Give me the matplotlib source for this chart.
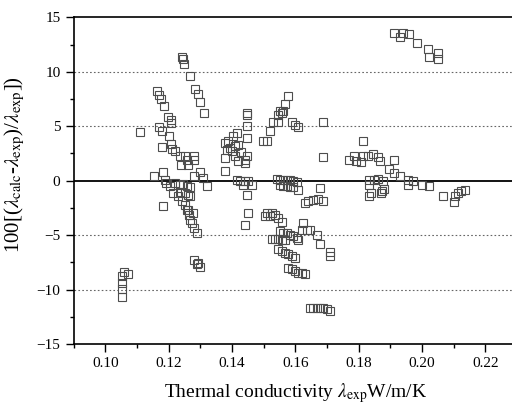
import numpy as np
import matplotlib
matplotlib.use('Agg')
import matplotlib.pyplot as plt
from matplotlib.ticker import MultipleLocator

plt.rcParams['font.family'] = ['Liberation Serif', 'DejaVu Serif']
plt.rcParams['mathtext.fontset'] = 'stix'

# Desvios relativos por grupo de dados (lambda_exp, desvio %)
x_g1 = [0.1060, 0.1071, 0.1052, 0.1052, 0.1052, 0.1052]
y_g1 = [-8.36, -8.61, -8.76, -9.43, -9.98, -10.65]

x_g2 = [0.1110]
y_g2 = [4.46]

x_g3 = [0.1162, 0.1171, 0.1177, 0.1186, 0.1199, 0.1207, 0.1208, 0.1171, 0.1178,
        0.1201, 0.1180, 0.1208, 0.1212, 0.1220, 0.1236, 0.1252, 0.1281, 0.1280,
        0.1238, 0.1260, 0.1257, 0.1299, 0.1279, 0.1309, 0.1320]
y_g3 = [8.27, 7.88, 7.54, 6.90, 5.89, 5.59, 5.28, 4.95, 4.58,
        4.12, 3.11, 3.39, 2.93, 2.68, 2.23, 2.23, 2.23, 1.92,
        1.47, 1.40, 1.92, 0.80, 0.39, 0.25, -0.46]

x_g4 = [0.1241, 0.1246, 0.1249, 0.1267, 0.1283, 0.1292, 0.1299, 0.1313]
y_g4 = [11.33, 11.14, 10.68, 9.64, 8.40, 7.97, 7.21, 6.20]

x_g5 = [0.1154, 0.1183, 0.1189, 0.1191, 0.1204, 0.1220, 0.1236, 0.1246, 0.1257,
        0.1267, 0.1215, 0.1231, 0.1241, 0.1252, 0.1183, 0.1262, 0.1267, 0.1262,
        0.1278, 0.1267, 0.1273, 0.1281, 0.1289, 0.1236, 0.1252, 0.1257, 0.1263]
y_g5 = [0.39, 0.80, 0.09, -0.21, -0.52, -0.21, -0.40, -0.30, -0.52,
        -0.60, -1.13, -1.44, -1.90, -2.20, -2.35, -1.28, -1.44, -2.66,
        -2.96, -3.57, -3.88, -4.33, -4.79, -1.00, -1.10, -2.66, -3.11]

x_g6 = [0.1279, 0.1289, 0.1293, 0.1299]
y_g6 = [-7.30, -7.66, -7.54, -7.90]

x_g7 = [0.1447, 0.1447, 0.1447, 0.1447, 0.1415, 0.1404, 0.1388, 0.1378, 0.1383,
        0.1410, 0.1399, 0.1378, 0.1410, 0.1420, 0.1441, 0.1447, 0.1441, 0.1378,
        0.1415, 0.1425, 0.1441, 0.1452, 0.1436, 0.1462, 0.1447, 0.1450, 0.1441,
        0.1499, 0.1504, 0.1393, 0.1430, 0.1420]
y_g7 = [6.20, 6.04, 5.04, 3.90, 4.37, 4.06, 3.60, 3.45, 2.84,
        3.14, 2.68, 2.08, 2.23, 1.77, 1.92, 2.23, 1.62, 0.85,
        0.09, -0.06, 0.00, -0.06, -0.37, -0.37, -1.28, -2.96, -4.03,
        3.60, -3.27, 3.00, 2.60, 3.30]

x_g8 = [0.1578, 0.1567, 0.1562, 0.1552, 0.1557, 0.1546, 0.1531, 0.1546, 0.1589,
        0.1599, 0.1609, 0.1520, 0.1510, 0.1688, 0.1688,
        0.1541, 0.1552, 0.1562, 0.1573, 0.1583, 0.1594, 0.1604,
        0.1551, 0.1562, 0.1573, 0.1583, 0.1594, 0.1609, 0.1678,
        0.1631, 0.1641, 0.1657, 0.1673, 0.1688,
        0.1510, 0.1520, 0.1525, 0.1536, 0.1546, 0.1557,
        0.1552, 0.1562, 0.1573, 0.1583, 0.1594, 0.1604, 0.1609,
        0.1525, 0.1536, 0.1546, 0.1557, 0.1567,
        0.1625, 0.1620, 0.1636, 0.1646, 0.1668, 0.1678, 0.1710, 0.1710,
        0.1546, 0.1557, 0.1567, 0.1578, 0.1589, 0.1599,
        0.1578, 0.1589, 0.1599, 0.1609, 0.1620, 0.1631,
        0.1646, 0.1657, 0.1668, 0.1678, 0.1688, 0.1699, 0.1710]
y_g8 = [7.78, 7.05, 6.44, 6.35, 6.20, 6.04, 5.37, 5.43, 5.43,
        5.13, 4.97, 4.52, 3.60, 5.34, 2.17,
        0.15, 0.10, 0.10, 0.05, 0.05, 0.00, -0.10,
        -0.40, -0.45, -0.50, -0.55, -0.60, -0.90, -0.67,
        -2.04, -1.90, -1.80, -1.68, -1.90,
        -2.96, -3.27, -2.96, -3.11, -3.42, -3.82,
        -4.64, -4.79, -4.85, -4.95, -5.10, -5.25, -5.49,
        -5.34, -5.40, -5.40, -5.47, -5.47,
        -3.87, -4.49, -4.49, -4.49, -4.95, -5.86, -6.56, -6.93,
        -6.32, -6.47, -6.62, -6.78, -6.93, -7.08,
        -7.99, -8.15, -8.31, -8.45, -8.52, -8.61,
        -11.66, -11.66, -11.66, -11.66, -11.66, -11.81, -11.97]

x_g9 = [0.1813, 0.1769, 0.1786, 0.1792, 0.1807, 0.1813, 0.1829, 0.1844, 0.1860,
        0.1867, 0.1913, 0.1897, 0.1913, 0.1929, 0.1955, 0.1971, 0.1955, 0.1999,
        0.2023, 0.2065, 0.2105, 0.2113, 0.2123, 0.2136, 0.2100,
        0.1834, 0.1834, 0.1839, 0.1834, 0.1850, 0.1860, 0.1876, 0.1874, 0.1881, 0.1871]
y_g9 = [3.66, 1.92, 2.23, 1.77, 1.71, 2.23, 2.23, 2.47, 2.17,
        1.77, 1.86, 1.07, 0.71, 0.46, 0.09, -0.06, -0.37, -0.37,
        -0.46, -1.37, -1.44, -1.13, -0.98, -0.82, -1.99,
        0.09, -0.37, -1.13, -1.44, 0.09, 0.15, -0.06, -0.98, -0.76, -1.13]

x_g10 = [0.1911, 0.1932, 0.1939, 0.1958, 0.1984, 0.2019, 0.2021, 0.2050, 0.2050]
y_g10 = [13.58, 13.16, 13.52, 13.43, 12.61, 12.09, 11.33, 11.75, 11.20]

grupos = [(x_g1, y_g1), (x_g2, y_g2), (x_g3, y_g3), (x_g4, y_g4), (x_g5, y_g5),
          (x_g6, y_g6), (x_g7, y_g7), (x_g8, y_g8), (x_g9, y_g9), (x_g10, y_g10)]

fig = plt.figure(figsize=(5.12, 4.08), dpi=100)
ax = fig.add_axes([0.1438, 0.1569, 0.866, 0.8007])

for y in [-10, -5, 5, 10]:
    ax.axhline(y, color='#666666', linestyle=(0, (1.5, 2)), linewidth=0.8, zorder=1)
ax.axhline(0, color='black', linewidth=1.3, zorder=1)

for xs, ys in grupos:
    ax.plot(xs, ys, linestyle='none', marker='s', markersize=5.8,
            markerfacecolor='none', markeredgecolor='#4d4d4d',
            markeredgewidth=0.8, zorder=2)

ax.set_xlim(0.09, 0.23)
ax.set_ylim(-15, 15)
ax.xaxis.set_major_locator(MultipleLocator(0.02))
ax.xaxis.set_minor_locator(MultipleLocator(0.01))
ax.yaxis.set_major_locator(MultipleLocator(5))
ax.yaxis.set_minor_locator(MultipleLocator(2.5))
ax.xaxis.set_major_formatter(plt.FormatStrFormatter('%.2f'))
ax.tick_params(which='both', direction='out', top=False, right=False, labelsize=11)
ax.tick_params(which='major', length=6, width=1)
ax.tick_params(which='minor', length=3, width=1)
for s in ax.spines.values():
    s.set_linewidth(1.2)

ax.set_xlabel(r'Thermal conductivity $\lambda_{\mathrm{exp}}$W/m/K', fontsize=14, labelpad=8)
ax.set_ylabel(r'100[($\lambda_{\mathrm{calc}}$-$\lambda_{\mathrm{exp}}$)/$\lambda_{\mathrm{exp}}$])',
              fontsize=15, labelpad=2)
ax.yaxis.set_label_coords(-0.105, 0.55)

plt.savefig('out.png', dpi=100)
